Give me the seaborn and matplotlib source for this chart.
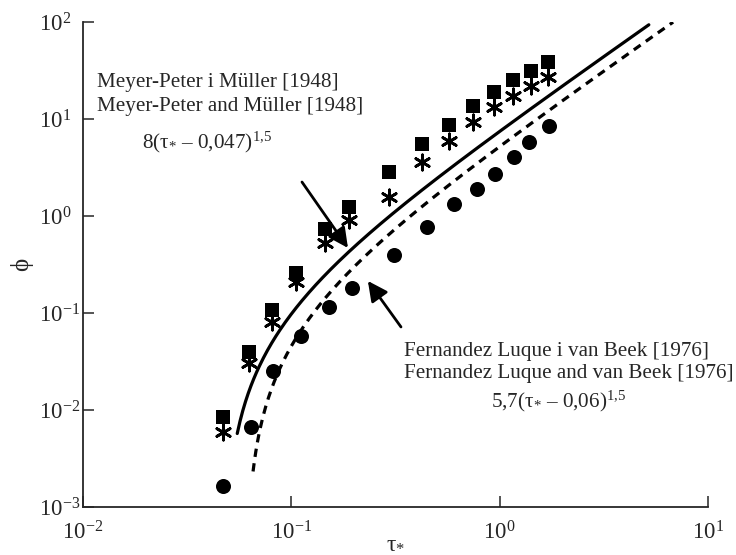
import numpy as np
import pandas as pd
import seaborn as sns
import matplotlib.pyplot as plt

tau_sq = [0.047, 0.0627, 0.0807, 0.105, 0.145, 0.189, 0.294, 0.424, 0.571, 0.745, 0.94, 1.16, 1.42, 1.71]
phi_sq = [0.0085, 0.0396, 0.107, 0.258, 0.735, 1.24, 2.84, 5.52, 8.67, 13.6, 19.0, 25.2, 31.3, 38.7]
tau_star = [0.047, 0.0627, 0.0807, 0.105, 0.145, 0.189, 0.294, 0.424, 0.571, 0.745, 0.94, 1.16, 1.42, 1.71]
phi_star = [0.0059, 0.0306, 0.0807, 0.209, 0.527, 0.91, 1.57, 3.6, 5.93, 9.31, 13.3, 17.3, 21.9, 27.1]
tau_circ = [0.047, 0.064, 0.0818, 0.111, 0.152, 0.195, 0.311, 0.448, 0.604, 0.778, 0.95, 1.17, 1.38, 1.73]
phi_circ = [0.00165, 0.00669, 0.0252, 0.058, 0.115, 0.181, 0.396, 0.771, 1.33, 1.90, 2.71, 4.06, 5.79, 8.47]

# transport formulas as printed on the chart: a * (tau - tau_c) ** 1.5
mpm_coef, mpm_tc, mpm_range = 8.0, 0.047, (0.055, 5.2)
flb_coef, flb_tc, flb_range = 5.7, 0.06, (0.0655, 6.8)

sns.set_style('ticks')
plt.rcParams['font.family'] = ['Liberation Serif', 'DejaVu Serif']
plt.rcParams['mathtext.fontset'] = 'custom'
plt.rcParams['mathtext.rm'] = 'Liberation Serif'
plt.rcParams['mathtext.it'] = 'Liberation Serif:italic'
plt.rcParams['mathtext.bf'] = 'Liberation Serif:bold'

fig = plt.figure(figsize=(7.36, 5.55), dpi=100)
ax = fig.add_axes([83 / 736, 48 / 555, 625 / 736, 485 / 555])

t1 = np.logspace(np.log10(mpm_range[0]), np.log10(mpm_range[1]), 300)
t2 = np.logspace(np.log10(flb_range[0]), np.log10(flb_range[1]), 300)
curves = pd.DataFrame({'tau': t1, 'phi': mpm_coef * (t1 - mpm_tc) ** 1.5})
curves2 = pd.DataFrame({'tau': t2, 'phi': flb_coef * (t2 - flb_tc) ** 1.5})

sns.lineplot(data=curves, x='tau', y='phi', color='black', lw=2.3, ax=ax, sort=False)
sns.lineplot(data=curves2, x='tau', y='phi', color='black', lw=2.3, ax=ax, sort=False,
             linestyle=(0, (2.6, 2.0)))

sns.scatterplot(x=tau_sq, y=phi_sq, marker='s', s=100, color='black', linewidth=0, ax=ax)
sns.scatterplot(x=tau_star, y=phi_star, marker=(6, 2, 0), s=120, color='black',
                edgecolor='black', linewidth=2, ax=ax)
sns.scatterplot(x=tau_circ, y=phi_circ, marker='o', s=117, color='black', linewidth=0, ax=ax)

ax.set_xscale('log')
ax.set_yscale('log')
ax.set_xlim(1e-2, 1e1)
ax.set_ylim(1e-3, 1e2)
ax.minorticks_off()
sns.despine(ax=ax)
for s in ['left', 'bottom']:
    ax.spines[s].set_linewidth(1.3)
ax.tick_params(axis='both', which='major', direction='in', length=8, width=1.1,
               labelsize=16.5)
ax.tick_params(axis='x', pad=10)
ax.tick_params(axis='y', pad=32)
for lab in ax.get_yticklabels():
    lab.set_horizontalalignment('left')

ax.set_xlabel('τ$_{*}$', fontsize=17)
ax.xaxis.set_label_coords(0.5, -0.052)
ax.set_ylabel('ϕ', fontsize=18, labelpad=4)

fs = 15.2
ax.text(0.0224, 0.866, 'Meyer-Peter i Müller [1948]', transform=ax.transAxes, fontsize=fs)
ax.text(0.0224, 0.8165, 'Meyer-Peter and Müller [1948]', transform=ax.transAxes, fontsize=fs)
ax.text(0.0944, 0.740, '8(τ$_{*}$ – 0,047)$^{1{,}5}$', transform=ax.transAxes, fontsize=fs)
ax.text(0.5136, 0.3113, 'Fernandez Luque i van Beek [1976]', transform=ax.transAxes, fontsize=fs)
ax.text(0.5136, 0.266, 'Fernandez Luque and van Beek [1976]', transform=ax.transAxes, fontsize=fs)
ax.text(0.6528, 0.206, '5,7(τ$_{*}$ – 0,06)$^{1{,}5}$', transform=ax.transAxes, fontsize=fs)

arrow = dict(arrowstyle='-|>,head_length=0.6,head_width=0.3', lw=2, color='black',
             mutation_scale=20, shrinkA=0, shrinkB=0)
ax.annotate('', xy=(0.187, 0.468), xytext=(0.1125, 2.24), arrowprops=arrow)
ax.annotate('', xy=(0.233, 0.214), xytext=(0.336, 0.0718), arrowprops=arrow)

fig.savefig('out.png', dpi=100)
